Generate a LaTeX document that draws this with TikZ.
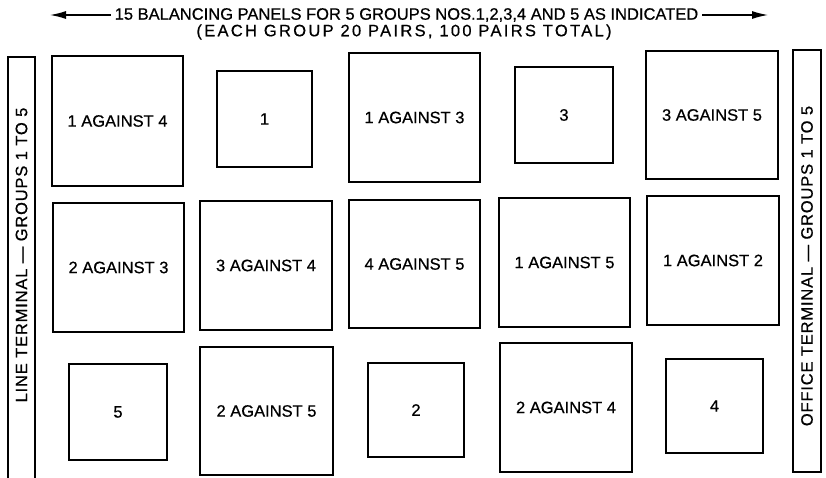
\documentclass[tikz,border=0pt]{standalone}
\usepackage{fontspec}
\setmainfont{Liberation Sans}[FakeBold=0.6]
\usetikzlibrary{arrows.meta}

\begin{document}
\begin{tikzpicture}[x=1pt,y=-1pt,
    font=\fontsize{16.5}{19}\selectfont,
    panel/.style={draw,line width=1.3pt,inner sep=0pt},
    strip/.style={draw,line width=1.3pt,inner sep=0pt,minimum width=27pt},
    tip/.style={-{Latex[length=16pt,width=8pt]},line width=1.3pt}]
\useasboundingbox (0,0) rectangle (826,478);
% heading
\node[inner sep=4pt] (title) at (406.5,15) {15 BALANCING PANELS FOR 5 GROUPS NOS.1,2,3,4 AND 5 AS INDICATED};
\node (sub) at (404,32) {\addfontfeature{LetterSpace=14}(EACH GROUP 20 PAIRS, 100 PAIRS TOTAL)};
\coordinate (la) at (50,15);
\coordinate (ra) at (768,15);
\draw[tip] (title.west) -- (la);
\draw[tip] (title.east) -- (ra);
% terminal strips
\node[strip,minimum height=423pt] (lstrip) at (21.5,268.5) {};
\node[rotate=90] (lterm) at (21.5,255) {\addfontfeature{LetterSpace=5}LINE TERMINAL --- GROUPS 1 TO 5};
\node[strip,minimum height=422pt,minimum width=28pt] (rstrip) at (807,261) {};
\node[rotate=90] (oterm) at (807,266) {\addfontfeature{LetterSpace=5}OFFICE TERMINAL --- GROUPS 1 TO 5};
% top row
\node[panel,minimum width=131pt,minimum height=130pt] (p14) at (117.5,121) {1 AGAINST 4};
\node[panel,minimum width=95pt,minimum height=96pt] (p1) at (264.5,119) {1};
\node[panel,minimum width=131pt,minimum height=129pt] (p13) at (414.5,117.5) {1 AGAINST 3};
\node[panel,minimum width=98pt,minimum height=96pt] (p3) at (564,115) {3};
\node[panel,minimum width=132pt,minimum height=128pt] (p35) at (712,115) {3 AGAINST 5};
% middle row
\node[panel,minimum width=131pt,minimum height=129pt] (p23) at (118.5,267.5) {2 AGAINST 3};
\node[panel,minimum width=132pt,minimum height=129pt] (p34) at (266,265.5) {3 AGAINST 4};
\node[panel,minimum width=131pt,minimum height=128pt] (p45) at (414.5,264) {4 AGAINST 5};
\node[panel,minimum width=131pt,minimum height=129pt] (p15) at (564.5,262.5) {1 AGAINST 5};
\node[panel,minimum width=132pt,minimum height=129pt] (p12) at (713,260.5) {1 AGAINST 2};
% bottom row
\node[panel,minimum width=98pt,minimum height=96pt] (p5) at (118,412) {5};
\node[panel,minimum width=133pt,minimum height=128pt] (p25) at (266.5,411) {2 AGAINST 5};
\node[panel,minimum width=96pt,minimum height=94pt] (p2) at (416,410) {2};
\node[panel,minimum width=132pt,minimum height=129pt] (p24) at (566,407.5) {2 AGAINST 4};
\node[panel,minimum width=97pt,minimum height=94pt] (p4) at (714.5,406) {4};
\end{tikzpicture}
\end{document}
